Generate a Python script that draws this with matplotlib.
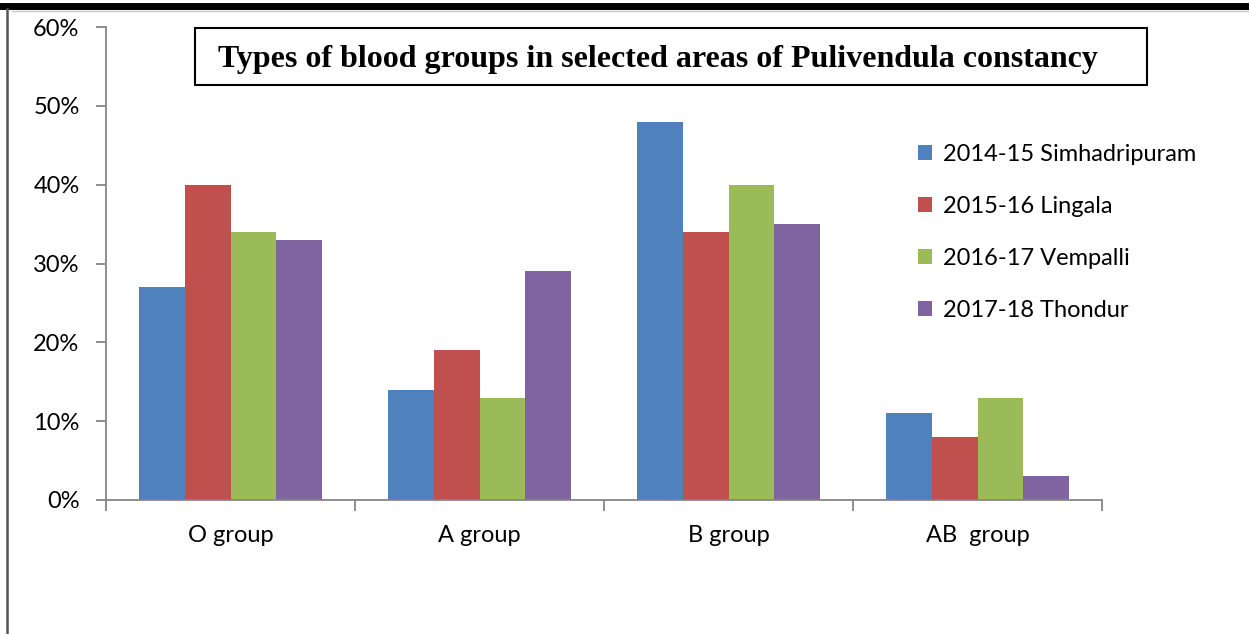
import numpy as np
import matplotlib.pyplot as plt
from matplotlib.lines import Line2D
from matplotlib.patches import Rectangle

groups = ['O group', 'A group', 'B group', 'AB  group']
series = ['2014-15 Simhadripuram', '2015-16 Lingala', '2016-17 Vempalli', '2017-18 Thondur']
simhadripuram = [27, 14, 48, 11]
lingala = [40, 19, 34, 8]
vempalli = [34, 13, 40, 13]
thondur = [33, 29, 35, 3]
colors = ['#4F81BD', '#C0504D', '#9BBB59', '#8064A2']

plt.rcParams['font.family'] = ['Lato', 'DejaVu Sans']

fig = plt.figure(figsize=(12.49, 6.34), dpi=100)
ax = fig.add_axes([106 / 1249, 1 - 500 / 634, (1102 - 106) / 1249, (500 - 27) / 634])

x = np.arange(len(groups))
w = 0.183
for i, (vals, lab) in enumerate(zip([simhadripuram, lingala, vempalli, thondur], series)):
    ax.bar(x + (i - 1.5) * w, vals, w, color=colors[i], label=lab, zorder=2)

ax.set_xlim(-0.5, 3.5)
ax.set_ylim(0, 60)
ax.set_yticks(range(0, 61, 10))
ax.set_yticklabels([f'{v}%' for v in range(0, 61, 10)], fontsize=17)
ax.set_xticks(np.arange(-0.5, 3.6, 1))
ax.set_xticklabels([])
ax.set_xticks(x, minor=True)
ax.set_xticklabels(groups, minor=True, fontsize=17)
ax.tick_params(axis='x', which='minor', length=0, pad=18)
ax.tick_params(axis='x', which='major', length=8, color='#868686', width=1.3)
ax.tick_params(axis='y', length=7, color='#868686', width=1.3, pad=12)
for s in ['top', 'right']:
    ax.spines[s].set_visible(False)
for s in ['left', 'bottom']:
    ax.spines[s].set_color('#868686')
    ax.spines[s].set_linewidth(1.3)

# title in a box
fig.add_artist(Rectangle((195 / 1249, 1 - 85 / 634), (1147 - 195) / 1249, (85 - 28) / 634,
                         transform=fig.transFigure, fill=False, edgecolor='black', linewidth=1.5))
fig.text(658 / 1249, 1 - 60 / 634, 'Types of blood groups in selected areas of Pulivendula constancy',
         family=['Liberation Serif'], fontweight='bold', fontsize=23, ha='center', va='center')

leg = ax.legend(loc='upper left', bbox_to_anchor=(899 / 1249, 1 - 125 / 634), bbox_transform=fig.transFigure,
                frameon=False, fontsize=17, handlelength=0.6, handleheight=0.6, handletextpad=0.45,
                labelspacing=1.31, borderpad=0.3)

# page borders
fig.add_artist(Line2D([0, 1], [1 - 6 / 634, 1 - 6 / 634], color='black', linewidth=5, transform=fig.transFigure))
fig.add_artist(Line2D([0.01, 1], [1 - 11 / 634, 1 - 11 / 634], color='#c8c8c8', linewidth=1, transform=fig.transFigure))
fig.add_artist(Line2D([7 / 1249, 7 / 1249], [0, 1 - 9 / 634], color='#555555', linewidth=1.8, transform=fig.transFigure))

fig.savefig('out.png', dpi=100)
